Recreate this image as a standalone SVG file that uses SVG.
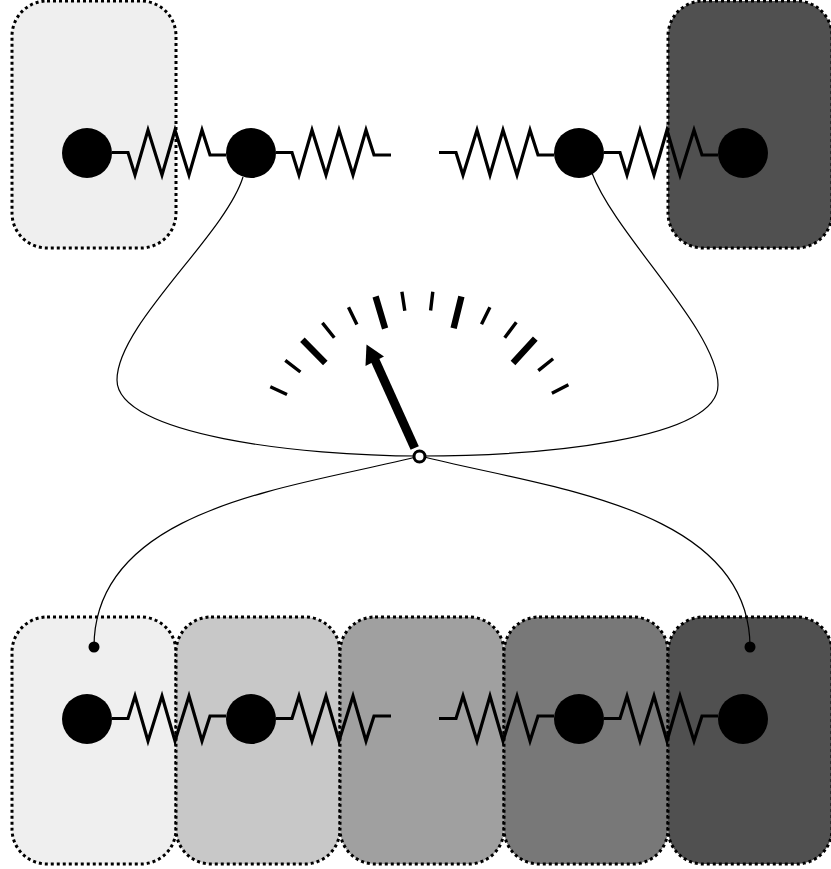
<svg xmlns="http://www.w3.org/2000/svg" width="831" height="869" viewBox="0 0 831 869">
<style>
.box{stroke:#000;stroke-width:3;stroke-dasharray:3 3}
.spring{fill:none;stroke:#000;stroke-width:3.200}
.wire{fill:none;stroke:#000;stroke-width:1.200}
.t{stroke:#000;stroke-width:3.400;fill:none}
.T{stroke:#000;stroke-width:6.400;fill:none}
</style>
<rect width="831" height="869" fill="#fff"/>
<g id="box-top-left"><rect class="box" x="12" y="1" width="164" height="247" rx="35" fill="#efefef"/></g>
<g id="box-top-right"><rect class="box" x="668" y="1" width="164" height="247" rx="35" fill="#505050"/></g>
<g id="box-bottom-1"><rect class="box" x="12" y="617" width="164" height="247" rx="35" fill="#efefef"/></g>
<g id="box-bottom-2"><rect class="box" x="176" y="617" width="164" height="247" rx="35" fill="#c8c8c8"/></g>
<g id="box-bottom-3"><rect class="box" x="340" y="617" width="164" height="247" rx="35" fill="#a0a0a0"/></g>
<g id="box-bottom-4"><rect class="box" x="504" y="617" width="164" height="247" rx="35" fill="#787878"/></g>
<g id="box-bottom-5"><rect class="box" x="668" y="617" width="164" height="247" rx="35" fill="#505050"/></g>
<g id="connectors">
<path class="wire" d="M243,177C225,235 117,325 117,380C117,435 300,456 420,456"/>
<path class="wire" d="M592,173C615,235 718,330 718,385C718,440 540,456 420,456"/>
<path class="wire" d="M420,456C300,487 94,505 94,647"/>
<path class="wire" d="M420,456C540,487 750,505 750,647"/>
<g id="springs-top">
<path class="spring" d="M112,152.500H128L135,175L148,130L162,175L175,130L189,175L202,130L210,155H226"/>
<path class="spring" d="M276,152.500H292L299,175L312,130L326,175L339,130L353,175L366,130L374,155H391"/>
<path class="spring" d="M439,152.500H456L463,175L477,130L490,175L503,130L517,175L530,130L538,155H554"/>
<path class="spring" d="M604,152.500H620L627,175L640,130L654,175L667,130L680,175L694,130L702,155H718"/>
</g>
<g id="springs-bottom">
<path class="spring" d="M112,718.500H128L135,696L148,741L162,696L175,741L189,696L202,741L210,716H226"/>
<path class="spring" d="M276,718.500H292L299,696L312,741L326,696L339,741L353,696L366,741L374,716H391"/>
<path class="spring" d="M439,718.500H456L463,696L477,741L490,696L503,741L517,696L530,741L538,716H554"/>
<path class="spring" d="M604,718.500H620L627,696L640,741L654,696L667,741L680,696L694,741L702,716H718"/>
</g>
</g>
<g id="masses-top">
<circle cx="87" cy="153" r="25"/><circle cx="251" cy="153" r="25"/><circle cx="579" cy="153" r="25"/><circle cx="743" cy="153" r="25"/>
</g>
<g id="masses-bottom">
<circle cx="87" cy="719" r="25"/><circle cx="251" cy="719" r="25"/><circle cx="579" cy="719" r="25"/><circle cx="743" cy="719" r="25"/>
</g>
<g id="terminals"><circle cx="94" cy="647" r="5.500"/><circle cx="750" cy="647" r="5.500"/></g>
<g id="gauge">
<path class="t" d="M270.300,386.800L287,394.500M285.300,360.400L300.400,372M322.400,322.900L334.300,337.700M348.500,307.200L356.900,324.500M401.900,291.800L404.800,310.800M432.800,291.800L430.600,310.500M489.900,307.200L481.500,324.200M516.300,322.300L504.700,337.700M553.100,358.700L538.300,370.600M568.400,384.800L551.900,393.200"/>
<path class="T" d="M302.400,339.700L325.300,363M375.600,296.500L385.100,328.500M461.400,296.500L453.600,328.200M535.300,338.600L513,363"/>
<path d="M414.700,448L375,360" stroke="#000" stroke-width="9" fill="none"/>
<polygon points="366.500,344.500 365.500,366 384,356.500"/>
<circle cx="419.500" cy="456.500" r="5.500" fill="#fff" stroke="#000" stroke-width="3"/>
</g>
</svg>
